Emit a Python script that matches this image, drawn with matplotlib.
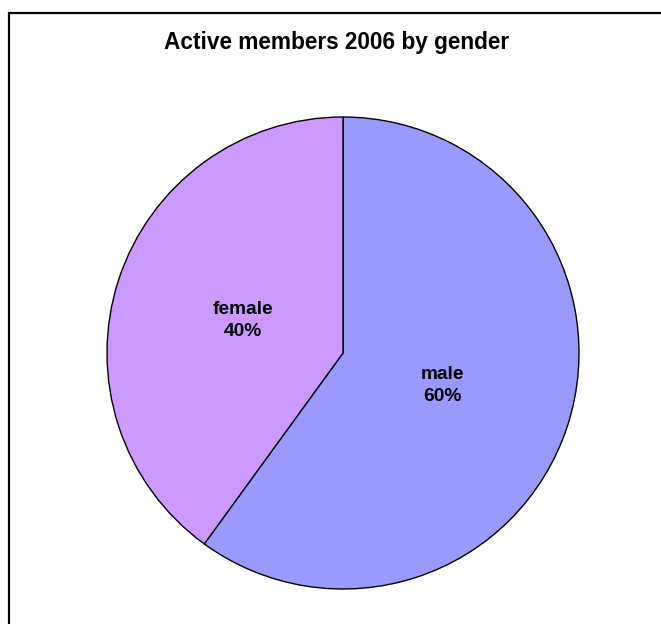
import matplotlib
matplotlib.use("Agg")
import matplotlib.pyplot as plt
from matplotlib.patches import Rectangle

plt.rcParams['font.family'] = ['Liberation Sans', 'DejaVu Sans']

title = "Active members 2006 by gender"
categories = ["male", "female"]
shares = [60, 40]
colors = ['#9999FF', '#CC99FF']

fig = plt.figure(figsize=(6.61, 6.24), dpi=100)
ax = fig.add_axes([107 / 661, 35 / 624, 472 / 661, 472 / 624])

labels = [f"{c}\n{v}%" for c, v in zip(categories, shares)]
ax.pie(shares, labels=labels, colors=colors, startangle=90, counterclock=False,
       labeldistance=0.445,
       wedgeprops=dict(edgecolor='black', linewidth=1, clip_on=False),
       textprops=dict(ha='center', va='center', fontweight='bold',
                      fontsize=13.8, linespacing=1.45))
ax.set_xlim(-1, 1)
ax.set_ylim(-1, 1)
ax.set_aspect('equal')

fig.text(336.5 / 661, 1 - 43 / 624, title, ha='center', va='center',
         fontweight='bold', fontsize=16.3)

# chart area border, cut off at right and bottom as in the original
fig.patches.append(Rectangle((9 / 661, -0.2), 1.2, 1.2 - 13 / 624,
                             transform=fig.transFigure, fill=False,
                             edgecolor='black', linewidth=1.6))

fig.savefig('out.png', dpi=100, facecolor='white')
